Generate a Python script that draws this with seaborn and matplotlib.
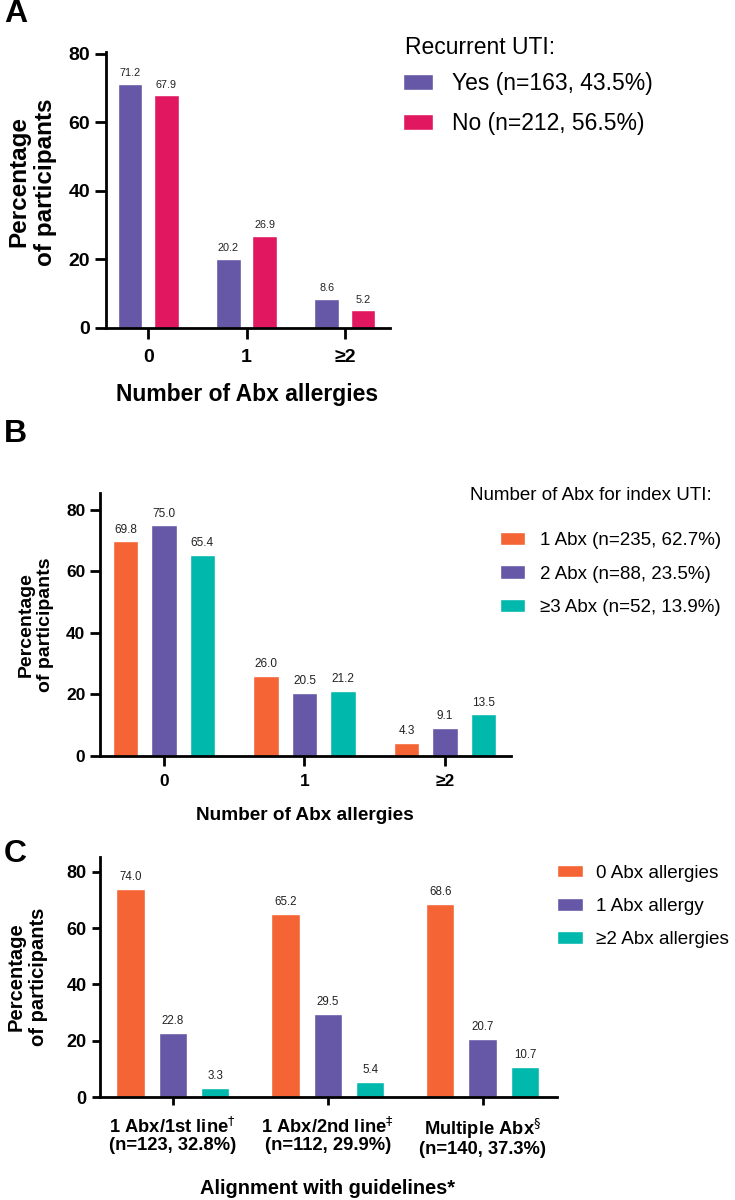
import matplotlib
matplotlib.use("Agg")
import matplotlib.pyplot as plt
import seaborn as sns
import pandas as pd

sns.set_style("ticks")
plt.rcParams["font.family"] = ["Liberation Sans", "DejaVu Sans"]
plt.rcParams["text.color"] = "black"
plt.rcParams["xtick.color"] = "black"
plt.rcParams["ytick.color"] = "black"
plt.rcParams["xtick.labelcolor"] = "black"
plt.rcParams["ytick.labelcolor"] = "black"

# ---- data ----
allergy_cats = ["0", "1", "≥2"]

uti_groups = ["Yes (n=163, 43.5%)", "No (n=212, 56.5%)"]
uti_yes = [71.2, 20.2, 8.6]
uti_no = [67.9, 26.9, 5.2]

abx_groups = ["1 Abx (n=235, 62.7%)", "2 Abx (n=88, 23.5%)", "≥3 Abx (n=52, 13.9%)"]
abx_1 = [69.8, 26.0, 4.3]
abx_2 = [75.0, 20.5, 9.1]
abx_3 = [65.4, 21.2, 13.5]

guide_cats = ["1 Abx/1st line$^{\\dagger}$\n(n=123, 32.8%)",
              "1 Abx/2nd line$^{\\ddagger}$\n(n=112, 29.9%)",
              "Multiple Abx$^{\\S}$\n(n=140, 37.3%)"]
allergy_groups = ["0 Abx allergies", "1 Abx allergy", "≥2 Abx allergies"]
guide_0 = [74.0, 65.2, 68.6]
guide_1 = [22.8, 29.5, 20.7]
guide_2 = [3.3, 5.4, 10.7]

purple = "#6658A6"
pink = "#E1185F"
orange = "#F46434"
teal = "#00B8AC"

W, H = 735, 1200
fig = plt.figure(figsize=(W / 100, H / 100), dpi=100)


def px_axes(l, r, t, b):
    return fig.add_axes([l / W, 1 - b / H, (r - l) / W, (b - t) / H])


def long_df(cats, groups, series):
    rows = []
    for g, vals in zip(groups, series):
        for c, v in zip(cats, vals):
            rows.append({"cat": c, "group": g, "value": v})
    return pd.DataFrame(rows)


def style_axes(ax, ylim, xlim, tick_fs, tick_len, lw, xpad):
    ax.set_ylim(*ylim)
    ax.set_xlim(*xlim)
    ax.set_yticks([0, 20, 40, 60, 80])
    sns.despine(ax=ax)
    for s in ["left", "bottom"]:
        ax.spines[s].set_linewidth(lw)
        ax.spines[s].set_color("black")
    ax.tick_params(axis="both", width=lw, length=tick_len, color="black",
                   labelsize=tick_fs, direction="out", labelcolor="black")
    ax.tick_params(axis="x", pad=xpad)
    for lab in ax.get_xticklabels() + ax.get_yticklabels():
        lab.set_fontweight("bold")
    ax.set_xlabel("")
    ax.set_ylabel("")


# ---- Panel A ----
axA = px_axes(106, 390, 52, 328)
dfA = long_df(allergy_cats, uti_groups, [uti_yes, uti_no])
sns.barplot(data=dfA, x="cat", y="value", hue="group", hue_order=uti_groups,
            palette=[purple, pink], saturation=1, width=0.74, gap=0.32,
            legend=False, ax=axA)
style_axes(axA, (0, 80.5), (-0.43, 2.46), 14, 8, 2, 7)
for cont in axA.containers:
    axA.bar_label(cont, fmt="%.1f", padding=4, fontsize=7.8, color="#222222")
axA.legend(axA.containers, uti_groups, loc="upper left",
           bbox_to_anchor=(403 / W, 1 - 72 / H), bbox_transform=fig.transFigure,
           frameon=False, fontsize=16.5, handlelength=1.31, handleheight=0.65,
           handletextpad=0.83, labelspacing=0.75, borderpad=0, borderaxespad=0)
fig.text(405 / W, 1 - 47 / H, "Recurrent UTI:", fontsize=16.5, va="center", ha="left")
fig.text(32 / W, 1 - 182 / H, "Percentage\nof participants", rotation=90,
         fontsize=17.5, fontweight="bold", ha="center", va="center", multialignment="center")
fig.text(247 / W, 1 - 395 / H, "Number of Abx allergies", fontsize=16.5,
         fontweight="bold", ha="center", va="center")
fig.text(4 / W, 1 - 14 / H, "A", fontsize=23, fontweight="bold", ha="left", va="center")

# ---- Panel B ----
axB = px_axes(100, 511, 493, 756)
dfB = long_df(allergy_cats, abx_groups, [abx_1, abx_2, abx_3])
sns.barplot(data=dfB, x="cat", y="value", hue="group", hue_order=abx_groups,
            palette=[orange, purple, teal], saturation=1, width=0.82, gap=0.34,
            legend=False, ax=axB)
style_axes(axB, (0, 85.5), (-0.455, 2.47), 12.5, 7, 2, 6)
for cont in axB.containers:
    axB.bar_label(cont, fmt="%.1f", padding=4, fontsize=8.5, color="#222222")
axB.legend(axB.containers, abx_groups, loc="upper left",
           bbox_to_anchor=(500 / W, 1 - 532 / H), bbox_transform=fig.transFigure,
           frameon=False, fontsize=13.5, handlelength=1.33, handleheight=0.7,
           handletextpad=0.8, labelspacing=0.87, borderpad=0, borderaxespad=0)
fig.text(470 / W, 1 - 495 / H, "Number of Abx for index UTI:", fontsize=13.5,
         va="center", ha="left")
fig.text(36 / W, 1 - 625 / H, "Percentage\nof participants", rotation=90,
         fontsize=14, fontweight="bold", ha="center", va="center", multialignment="center")
fig.text(305 / W, 1 - 815 / H, "Number of Abx allergies", fontsize=13.7,
         fontweight="bold", ha="center", va="center")
fig.text(4 / W, 1 - 434 / H, "B", fontsize=23, fontweight="bold", ha="left", va="center")

# ---- Panel C ----
axC = px_axes(100, 557, 857, 1097)
dfC = long_df(guide_cats, allergy_groups, [guide_0, guide_1, guide_2])
sns.barplot(data=dfC, x="cat", y="value", hue="group", hue_order=allergy_groups,
            palette=[orange, purple, teal], saturation=1, width=0.82, gap=0.33,
            legend=False, ax=axC)
style_axes(axC, (0, 85.3), (-0.47, 2.48), 13, 6, 2, 8)
for lab in axC.get_xticklabels():
    lab.set_fontsize(13.2)
    lab.set_linespacing(1.0)
for cont in axC.containers:
    axC.bar_label(cont, fmt="%.1f", padding=4, fontsize=8.3, color="#222222")
axC.legend(axC.containers, allergy_groups, loc="upper left",
           bbox_to_anchor=(557 / W, 1 - 865 / H), bbox_transform=fig.transFigure,
           frameon=False, fontsize=13.6, handlelength=1.35, handleheight=0.62,
           handletextpad=0.72, labelspacing=0.85, borderpad=0, borderaxespad=0)
fig.text(27 / W, 1 - 977 / H, "Percentage\nof participants", rotation=90,
         fontsize=14.5, fontweight="bold", ha="center", va="center", multialignment="center")
fig.text(328 / W, 1 - 1188 / H, "Alignment with guidelines*", fontsize=14.4,
         fontweight="bold", ha="center", va="center")
fig.text(4 / W, 1 - 854 / H, "C", fontsize=23, fontweight="bold", ha="left", va="center")

fig.savefig("out.png", dpi=100, facecolor="white")
